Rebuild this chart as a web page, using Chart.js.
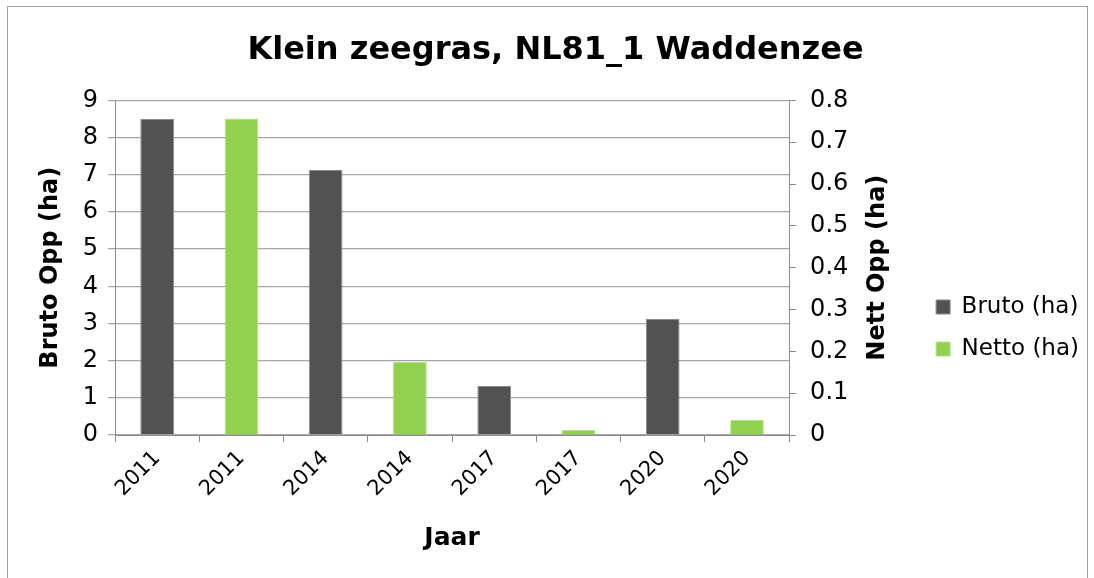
<!DOCTYPE html>
<html>
<head>
<meta charset="utf-8">
<script src="https://cdn.jsdelivr.net/npm/chart.js@4"></script>
<style>
  body { margin: 0; background: #fff; }
  #wrap { width: 1094px; height: 578px; }
</style>
</head>
<body>
<div id="wrap"><canvas id="zeegrasChart"></canvas></div>
<script>
// data
var jaren = ["2011", "2011", "2014", "2014", "2017", "2017", "2020", "2020"];
var bruto = [8.5, null, 7.13, null, 1.32, null, 3.12, null];
var netto = [null, 0.757, null, 0.175, null, 0.012, null, 0.036];
var brutoTicks = ["0", "1", "2", "3", "4", "5", "6", "7", "8", "9"];
var nettoTicks = ["0", "0.1", "0.2", "0.3", "0.4", "0.5", "0.6", "0.7", "0.8"];
var nettoTitel = "Nett Opp (ha)";

var fontFam = "'DejaVu Sans', Verdana, sans-serif";
Chart.defaults.font.family = fontFam;
Chart.defaults.color = "#000";

var gridGrey = "#a6a6a6";
var axisGrey = "#8c8c8c";

// outer frame like the excel chart area, title moved a bit like excel
var framePlugin = {
    id: "frame",
    afterLayout: function (chart) {
        if (chart.titleBlock) {
            chart.titleBlock.left += 11;
            chart.titleBlock.right += 11;
        }
    },
    beforeDraw: function (chart) {
        var c = chart.ctx;
        c.save();
        c.fillStyle = "#fff";
        c.fillRect(0, 0, chart.width, chart.height);
        c.strokeStyle = "#a0a0a0";
        c.lineWidth = 1;
        c.strokeRect(7.5, 6.5, 1080, 600);
        c.restore();
    },
    // right axis title reads bottom to top in the reference
    afterDraw: function (chart) {
        var c = chart.ctx;
        var area = chart.chartArea;
        c.save();
        c.translate(878, (area.top + area.bottom) / 2);
        c.rotate(-Math.PI / 2);
        c.font = "bold 24px " + fontFam;
        c.fillStyle = "#000";
        c.textAlign = "center";
        c.textBaseline = "middle";
        c.fillText(nettoTitel, 0, 0);
        c.restore();
    },
};

var ctx = document.getElementById("zeegrasChart").getContext("2d");
var zeegrasChart = new Chart(ctx, {
    type: "bar",
    data: {
        labels: jaren,
        datasets: [
            {
                label: "Bruto (ha)",
                data: bruto,
                yAxisID: "y",
                backgroundColor: "#525252",
                borderColor: "#8a8a8a",
                borderWidth: 1,
                grouped: false,
                barPercentage: 0.4,
                categoryPercentage: 1,
            },
            {
                label: "Netto (ha)",
                data: netto,
                yAxisID: "y1",
                backgroundColor: "#92d050",
                borderColor: "#b5e08a",
                borderWidth: 1,
                grouped: false,
                barPercentage: 0.4,
                categoryPercentage: 1,
            },
        ],
    },
    options: {
        responsive: true,
        maintainAspectRatio: false,
        animation: false,
        layout: {
            padding: { top: 0, left: 0, right: 5, bottom: 0 },
        },
        plugins: {
            title: {
                display: true,
                text: "Klein zeegras, NL81_1 Waddenzee",
                font: { size: 32, weight: "bold" },
                padding: { top: 31, bottom: 31 },
            },
            legend: {
                position: "right",
                title: {
                    display: true,
                    text: " ",
                    font: { size: 10 },
                    padding: { top: 66, bottom: 0 },
                },
                labels: {
                    boxWidth: 14,
                    boxHeight: 14,
                    padding: 19,
                    font: { size: 23 },
                },
            },
            tooltip: { enabled: false },
        },
        scales: {
            x: {
                grid: {
                    offset: true,
                    drawOnChartArea: false,
                    tickLength: 7,
                    color: axisGrey,
                },
                border: { color: axisGrey },
                ticks: {
                    minRotation: 45,
                    maxRotation: 45,
                    font: { size: 21 },
                    padding: 4,
                },
                title: {
                    display: true,
                    text: "Jaar",
                    font: { size: 25, weight: "bold" },
                    padding: { top: 0, bottom: 25 },
                },
                afterFit: function (scale) {
                    scale.height = 143;
                },
            },
            y: {
                position: "left",
                min: 0,
                max: 9,
                ticks: {
                    stepSize: 1,
                    font: { size: 24 },
                    padding: 10,
                    callback: function (value, index) {
                        return brutoTicks[index];
                    },
                },
                grid: {
                    color: gridGrey,
                    tickLength: 7,
                    lineWidth: 1.3,
                },
                border: { color: axisGrey },
                title: {
                    display: true,
                    text: "Bruto Opp (ha)",
                    font: { size: 24, weight: "bold" },
                    padding: { top: 36, bottom: 0 },
                },
                afterFit: function (scale) {
                    scale.width = 115;
                },
            },
            y1: {
                position: "right",
                min: 0,
                max: 0.8,
                ticks: {
                    stepSize: 0.1,
                    font: { size: 24 },
                    padding: 14,
                    callback: function (value, index) {
                        return nettoTicks[index];
                    },
                },
                grid: {
                    drawOnChartArea: false,
                    tickLength: 7,
                    color: axisGrey,
                },
                border: { color: axisGrey },
                afterFit: function (scale) {
                    scale.width = 128;
                },
            },
        },
    },
    plugins: [framePlugin],
});
</script>
</body>
</html>
